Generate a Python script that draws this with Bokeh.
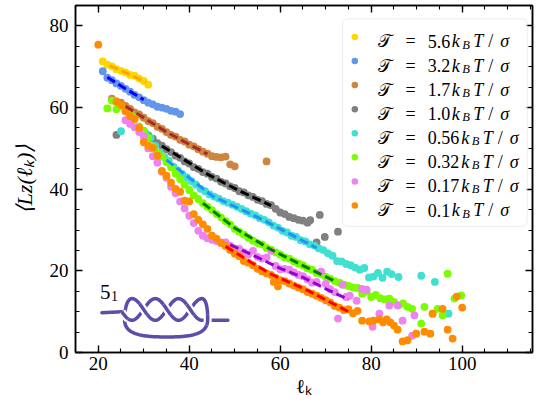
import numpy as np
from bokeh.plotting import figure
from bokeh.models import Range1d, LinearAxis, SingleIntervalTicker, Label, BoxAnnotation, CustomJSTickFormatter
from bokeh.embed import file_html
from bokeh.resources import INLINE

# ---------------- data ----------------
tension_labels = ["5.6", "3.2", "1.7", "1.0", "0.56", "0.32", "0.17", "0.1"]
point_colors = ["gold", "cornflowerblue", "peru", "gray", "turquoise", "lawngreen", "violet", "darkorange"]
fit_colors = ["orange", "blue", "brown", "black", "dodgerblue", "green", "darkviolet", "red"]

x_56 = [21, 22, 23, 24, 25, 26, 27, 28, 29, 30, 31]
y_56 = [71.3, 70.5, 70.1, 69.4, 69.0, 68.6, 68.0, 67.8, 67.1, 66.5, 65.6]
fx_56 = [22.5, 26.5, 30.5]
fy_56 = [70.3, 68.3, 66.2]

x_32 = [21, 22, 23, 24, 25, 26, 27, 28, 29, 30, 31, 32, 33, 34, 35, 36, 37, 38]
y_32 = [68.9, 67.3, 66.7, 65.9, 65.3, 64.6, 63.9, 63.1, 62.5, 61.8, 61.2, 60.8, 60.2, 60.0, 59.7, 59.2, 59.0, 58.4]
fx_32 = [22, 26, 30]
fy_32 = [67.4, 64.6, 61.9]

x_17 = [23, 24, 25, 26, 27, 28, 29, 30, 31, 32, 33, 34, 35, 36, 37, 38, 39, 40, 41, 42,
        43, 44, 45, 46, 47, 48, 49, 50, 57]
y_17 = [62.2, 61.5, 61.2, 60.4, 59.7, 58.8, 58.3, 57.5, 56.7, 56.2, 55.3, 54.8, 54.0, 53.3, 52.9, 52.1,
        51.7, 50.9, 50.5, 49.8, 49.2, 48.7, 48.1, 47.9, 47.8, 48.0, 46.1, 45.6, 46.8]
fx_17 = [26, 35, 44]
fy_17 = [60.3, 54.0, 48.6]

x_10 = [24, 30, 31, 32, 33, 34, 35, 36, 37, 38, 39, 40, 41, 42, 43, 44, 45, 46, 47, 48, 49, 50,
        51, 52, 53, 54, 55, 56, 57, 58, 59, 60, 61, 62, 63, 64, 65, 66, 66.6, 68, 68.7, 69.8, 72.7]
y_10 = [53.3, 54.3, 53.2, 52.4, 51.3, 50.7, 49.8, 49.1, 48.2, 47.7, 46.8, 46.3, 45.4, 45.0, 44.2,
        43.8, 43.0, 42.6, 41.8, 41.4, 40.7, 40.3, 39.5, 39.2, 38.5, 38.1, 37.4, 37.1, 36.4, 36.1,
        35.2, 34.3, 33.9, 33.2, 32.9, 32.5, 32.3, 31.8, 32.4, 27.0, 33.7, 28.3, 29.6]
fx_10 = [34, 44, 51, 58]
fy_10 = [50.6, 43.7, 39.6, 36.0]

x_056 = [25, 30.5, 31.5, 32.5, 33.5, 34.5, 35.5, 36.5, 37.5, 38.5, 39.5,
         40.5, 41.5, 42.5, 43.5, 44.5, 45.5, 46.5, 47.5, 48.5, 49.5,
         50.5, 51.5, 52.5, 53.5, 54.5, 55.5, 56.5, 57.5, 58.5, 59.5,
         60.5, 61.5, 62.5, 63.5, 64.5, 65.5, 66.5, 67.5, 68.5, 69.5,
         70.5, 71.5, 72.5, 73.5, 74.5, 75.5, 76.5, 77.5, 78.5, 79.5,
         80.5, 81.5, 82.5, 83.5, 84.5, 86, 91, 94, 97]
y_056 = [54.2, 53.6, 52.6, 50.6, 48.9, 47.9, 47.0, 45.5, 44.6, 43.7, 42.9,
         42.0, 41.1, 40.1, 39.5, 38.7, 38.2, 37.7, 37.1, 36.7, 36.2,
         35.7, 35.2, 34.6, 34.0, 33.6, 32.9, 32.5, 31.9, 31.1, 30.6,
         29.8, 29.4, 28.6, 28.3, 27.5, 27.2, 26.5, 26.2, 25.5, 25.1,
         24.3, 23.7, 22.4, 22.3, 21.7, 21.4, 20.8, 20.3, 20.7, 18.4,
         18.6, 19.5, 18.3, 19.8, 19.2, 18.5, 18.8, 17.3, 9.5]
fx_056 = [35, 45, 56, 68]
fy_056 = [47.2, 38.4, 32.6, 25.6]

x_032 = [22, 23, 24, 25, 26, 27, 28, 29, 30, 31, 32, 33, 34, 35, 36, 37, 38, 39, 40, 41,
         42, 43, 44, 45, 46, 47, 48, 49, 50, 51, 52, 53, 54, 55, 56, 57, 58, 59, 60, 61,
         62, 63, 64, 65, 66, 67, 68, 69, 70, 71, 72, 73, 74, 75, 76, 77, 78, 79, 80, 81,
         82, 83, 84, 85, 86, 87, 88, 89, 91, 91.7, 93.5, 94.6, 95.7, 96.8, 98.3, 99.8]
y_032 = [59.8, 61.7, 59.6, 60.3, 59.2, 58.6, 57.6, 55.4, 54.2, 52.6,
         50.4, 48.9, 48.0, 46.6, 45.4, 43.8, 42.5, 41.1, 39.8, 38.5,
         37.6, 36.6, 35.7, 34.9, 33.9, 33.1, 32.2, 31.4, 30.3, 29.6,
         28.9, 28.1, 27.4, 26.8, 26.5, 25.6, 25.2, 24.5, 24.0, 23.3,
         23.0, 22.3, 21.8, 21.4, 20.6, 20.3, 19.5, 19.2, 18.6, 18.1,
         17.5, 17.1, 16.6, 16.3, 15.9, 15.8, 14.4, 14.9, 13.6, 14.1,
         13.3, 13.0, 13.2, 12.4, 11.6, 12.0, 11.2, 10.7,
         7.1, 11.2, 9.5, 10.7, 9.1, 19.3, 13.2, 14.0]
fx_032 = [43, 50, 58, 65, 72]
fy_032 = [36.6, 30.5, 25.2, 21.3, 17.5]

x_017 = [26, 27, 28, 29, 30, 31, 32, 33, 34, 35, 36, 37, 38, 39, 40, 41, 42, 43, 44, 45,
         46, 47, 48, 49, 50, 51, 52, 53, 54, 55, 56, 57, 58, 59, 60, 61, 62, 63, 64, 65,
         66, 67, 68, 69, 70, 71, 72, 72.7, 73.7, 74.5, 75.3, 76.8, 78, 79, 80.3, 81.8,
         84, 85.8, 86.9, 89, 89.5]
y_017 = [56.9, 56.0, 55.2, 54.0, 53.0, 50.0, 48.1, 46.5, 44.3, 42.8,
         40.6, 39.0, 37.0, 35.3, 33.5, 31.7, 29.8, 28.6, 28.0, 27.6,
         27.3, 27.0, 27.0, 26.2, 25.5, 25.4, 24.6, 24.0, 24.9, 23.4,
         23.0, 23.3, 24.9, 21.2, 20.4, 20.5, 20.3, 19.6, 19.0, 18.7,
         17.9, 17.1, 17.3, 19.8, 16.8, 15.5, 14.8, 8.3, 16.6, 13.6, 13.9, 12.7,
         15.6, 15.4, 6.3, 9.5, 11.5, 11.5, 7.8, 4.1, 9.1]
fx_017 = [49, 55, 60, 65, 70, 75]
fy_017 = [26.4, 23.3, 20.6, 18.4, 15.6, 13.0]

x_01 = [20, 24, 25, 26, 27, 28, 29, 30, 31, 32, 33, 34, 35, 36, 37, 38, 39, 40, 41, 42,
        43, 44, 45, 46, 47, 48, 49, 50, 51, 52, 53, 54, 55, 56, 57, 58, 59, 60, 61, 62,
        63, 64, 65, 66, 67, 68, 69, 70, 71, 72, 73, 74, 75, 76, 77,
        78, 79.6, 80.5, 81.8, 82.6, 83.4, 84.2, 85, 85.8, 86.9, 88, 89.9, 91.7, 93, 93.5,
        95.7, 96.8, 97.9, 98.8, 100, 58.6, 59.5]
y_01 = [75.4, 61.4, 60.6, 59.1, 57.9, 57.2, 55.0, 51.5, 50.7, 50.1,
        48.2, 44.5, 43.3, 41.6, 40.1, 39.4, 37.2, 37.0, 33.9, 32.5,
        31.4, 30.3, 28.6, 27.9, 26.8, 26.1, 25.1, 24.2, 23.6, 22.4,
        22.0, 21.4, 20.5, 19.9, 19.4, 19.0, 18.3, 17.7, 17.5, 16.9,
        16.4, 15.9, 15.5, 14.8, 14.4, 13.9, 13.4, 12.8, 12.3, 11.4,
        11.0, 10.4, 10.6, 9.6, 10.2,
        7.8, 7.6, 7.8, 8.1, 7.4, 8.1, 7.4, 6.6, 5.6, 2.7, 3.0, 4.6, 5.1, 4.6, 9.5,
        10.7, 5.6, 3.4, 13.7, 11.0, 17.3, 16.2]
fx_01 = [48, 54, 58, 62, 66, 70, 75]
fy_01 = [26.0, 21.8, 19.2, 17.2, 15.2, 12.9, 10.0]

series_x = [x_56, x_32, x_17, x_10, x_056, x_032, x_017, x_01]
series_y = [y_56, y_32, y_17, y_10, y_056, y_032, y_017, y_01]
fits_x = [fx_56, fx_32, fx_17, fx_10, fx_056, fx_032, fx_017, fx_01]
fits_y = [fy_56, fy_32, fy_17, fy_10, fy_056, fy_032, fy_017, fy_01]
for a, b in zip(series_x, series_y):
    assert len(a) == len(b), (len(a), len(b))

x_ticks_interval = 20
y_ticks_interval = 20
x_axis_title = "\u2113\u2096"
y_axis_title = "\u27e8L\u1d22(\u2113\u2096)\u27e9"

# ---------------- figure ----------------
SERIF = "Liberation Serif"
W, H = 534, 399
FRAME_LEFT, FRAME_TOP, FRAME_BOTTOM = 75, 5, 352

p = figure(width=W, height=H, x_range=Range1d(15, 115.46), y_range=Range1d(0, 85),
           output_backend="svg", toolbar_location=None,
           min_border_left=FRAME_LEFT, min_border_right=2, min_border_top=FRAME_TOP,
           min_border_bottom=H - FRAME_BOTTOM)
p.grid.visible = False
p.outline_line_color = "black"
p.outline_line_width = 1.5
p.background_fill_color = "white"
p.border_fill_color = "white"


def style_axis(ax, interval, labels=True, standoff=6):
    ax.ticker = SingleIntervalTicker(interval=interval, num_minor_ticks=4)
    ax.major_tick_in = 7
    ax.major_tick_out = 0
    ax.minor_tick_in = 4
    ax.minor_tick_out = 0
    ax.major_tick_line_width = 1.4
    ax.minor_tick_line_width = 1.1
    ax.major_tick_line_color = "black"
    ax.minor_tick_line_color = "black"
    ax.axis_line_width = 1.5
    ax.axis_line_color = "black"
    ax.major_label_text_font = SERIF
    ax.major_label_text_font_size = "19px"
    ax.major_label_text_color = "black"
    ax.major_label_standoff = standoff
    if not labels:
        ax.formatter = CustomJSTickFormatter(code="return ''")
        ax.major_label_standoff = 0


style_axis(p.xaxis[0], x_ticks_interval, standoff=4)
style_axis(p.yaxis[0], y_ticks_interval, standoff=7)
for ax, title, standoff, size, style in ((p.xaxis[0], x_axis_title, 2, "20px", "normal"),
                                         (p.yaxis[0], y_axis_title, 10, "22px", "italic")):
    ax.axis_label = title
    ax.axis_label_text_font = SERIF
    ax.axis_label_text_font_size = size
    ax.axis_label_text_font_style = style
    ax.axis_label_text_color = "black"
    ax.axis_label_standoff = standoff

top_ax = LinearAxis()
right_ax = LinearAxis()
style_axis(top_ax, x_ticks_interval, labels=False)
style_axis(right_ax, y_ticks_interval, labels=False)
p.add_layout(top_ax, "above")
p.add_layout(right_ax, "right")

# ---------------- data marks ----------------
for xs, ys, c in zip(series_x, series_y, point_colors):
    p.scatter(x=xs, y=ys, marker="circle", size=7.8, fill_color=c, line_color=None)
for xs, ys, c in zip(fits_x, fits_y, fit_colors):
    p.line(x=xs, y=ys, line_color=c, line_width=3, line_dash="9 4")

# ---------------- knot inset (illustration) ----------------
KNOT = "#5b4da8"
yc, amp, s, xa = 10.55, 2.65, 5.13, 27.4
xb = xa + 3 * s


def cubic(P0, P1, P2, P3, n=40):
    t = np.linspace(0, 1, n)[:, None]
    P0, P1, P2, P3 = map(np.array, (P0, P1, P2, P3))
    pts = (1 - t) ** 3 * P0 + 3 * (1 - t) ** 2 * t * P1 + 3 * (1 - t) * t ** 2 * P2 + t ** 3 * P3
    return pts[:, 0], pts[:, 1]


xB = np.linspace(25.2, xb, 140)
yB = yc - amp * np.cos(np.pi * (xB - xa) / s)
xA = np.linspace(xa, xb, 120)
yA = yc + amp * np.cos(np.pi * (xA - xa) / s)
tail_x = np.concatenate([[20.8], xB])
tail_y = np.concatenate([[9.75], yB])
segs = [cubic((xb, yc + amp), (43.7, yc + amp), (44.1, 10.8), (44.05, 7.9)),
        cubic((44.05, 7.9), (44.0, 4.3), (40.0, 3.8), (35.1, 3.8)),
        cubic((35.1, 3.8), (30.0, 3.8), (25.8, 4.3), (25.8, 7.9)),
        cubic((25.8, 7.9), (25.8, 11.0), (26.4, yc + amp), (xa, yc + amp))]
loop_x = np.concatenate([sg[0] for sg in segs])
loop_y = np.concatenate([sg[1] for sg in segs])
rt_x = np.concatenate([xA, [48.5]])
rt_y = np.concatenate([yA, [yc - amp]])

for lx, ly in ((tail_x, tail_y), (loop_x, loop_y), (rt_x, rt_y)):
    p.line(x=lx, y=ly, line_color=KNOT, line_width=3.5, line_cap="round", line_join="round")


def over(lx, ly, mask):
    p.line(x=lx[mask], y=ly[mask], line_color="white", line_width=8, line_cap="butt")
    p.line(x=lx[mask], y=ly[mask], line_color=KNOT, line_width=3.5, line_cap="butt")


c1, c2, c3 = xa + s / 2, xa + 1.5 * s, xa + 2.5 * s
over(tail_x, tail_y, (tail_x > 24.9) & (tail_x < 26.6))
over(rt_x, rt_y, np.abs(rt_x - c1) < 0.9)
over(tail_x, tail_y, np.abs(tail_x - c2) < 0.9)
over(rt_x, rt_y, np.abs(rt_x - c3) < 0.9)
over(loop_x, loop_y, (loop_x > 43.0) & (loop_y > 6.6) & (loop_y < 9.3))


def txt(x, y, s_, size, style="normal", font=SERIF, dx=0, dy=0, align="left"):
    p.add_layout(Label(x=x, y=y, text=s_, x_offset=dx, y_offset=dy,
                       text_font=font, text_font_size=f"{size}px", text_font_style=style,
                       text_align=align, text_baseline="alphabetic", text_color="black"))


txt(20.4, 14.9, "5", 21)
txt(20.4, 14.9, "1", 14, dx=11, dy=-4)

# ---------------- legend ----------------
leg_left, leg_right, leg_top, leg_bottom = 73.7, 114.3, 81.7, 30.9
p.add_layout(BoxAnnotation(left=leg_left, right=leg_right, top=leg_top, bottom=leg_bottom,
                           fill_color="white", fill_alpha=0.8, line_color="#cccccc",
                           line_width=1.2, border_radius=5))
row_top, row_step = 77.3, 5.9
row_y = [row_top - i * row_step for i in range(len(tension_labels))]
mk_x = [76.4] * len(tension_labels)
r = p.scatter(x=mk_x, y=row_y, marker="circle", size=6.5, fill_color=point_colors, line_color=None)
r.level = "overlay"

text_x = 81.2
ref_w = {"0": 9.5, "1": 9.5, "2": 9.5, "3": 9.5, "5": 9.5, "6": 9.5, "7": 9.5, ".": 4.5}
base_w = sum(ref_w[ch] for ch in "5.6")
for lab, yy in zip(tension_labels, row_y):
    sh = sum(ref_w[ch] for ch in lab) - base_w
    dy = -4.5
    txt(text_x, yy, "\U0001D4AF", 18, dx=8, dy=dy, align="center")
    txt(text_x, yy, "=", 18, dx=34, dy=dy, align="center")
    txt(text_x, yy, lab, 18, dx=51, dy=dy)
    txt(text_x, yy, "k", 18, style="italic", dx=79 + sh, dy=dy, align="center")
    txt(text_x, yy, "B", 12.5, style="italic", dx=89.5 + sh, dy=dy - 3.5, align="center")
    txt(text_x, yy, "T", 18, style="italic", dx=101.5 + sh, dy=dy, align="center")
    txt(text_x, yy, "/", 18, dx=114 + sh, dy=dy, align="center")
    txt(text_x, yy, "\u03c3", 18, style="italic", dx=128 + sh, dy=dy, align="center")

open("out.html", "w").write(file_html(p, INLINE))
